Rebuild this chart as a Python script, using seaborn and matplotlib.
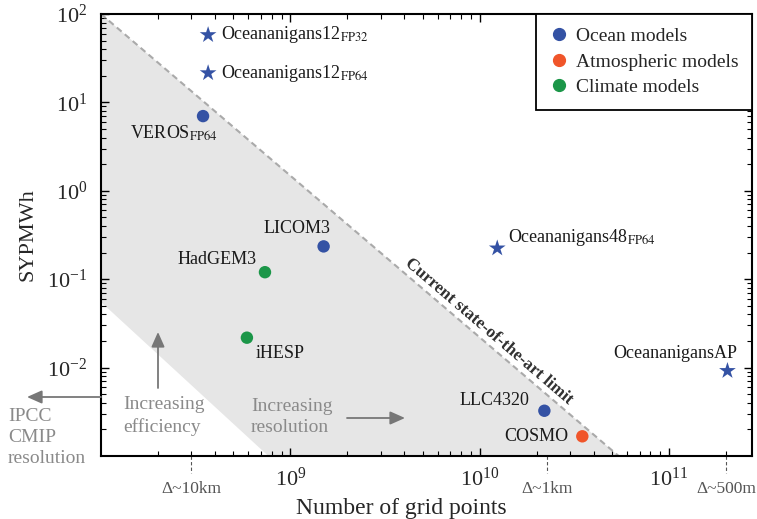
import numpy as np
import pandas as pd
import matplotlib
matplotlib.use("Agg")
import matplotlib.pyplot as plt
import matplotlib.patheffects as pe
from matplotlib.lines import Line2D
from matplotlib.ticker import LogLocator, NullFormatter
import seaborn as sns

# ---------------- data ----------------
model_names = [
    "Oceananigans12$_{\\mathrm{FP32}}$",
    "Oceananigans12$_{\\mathrm{FP64}}$",
    "VEROS$_{\\mathrm{FP64}}$",
    "LICOM3",
    "HadGEM3",
    "iHESP",
    "Oceananigans48$_{\\mathrm{FP64}}$",
    "OceananigansAP",
    "LLC4320",
    "COSMO",
]
grid_points = [3.68e8, 3.68e8, 3.46e8, 1.5e9, 7.35e8, 5.9e8, 1.24e10, 2.04e11, 2.2e10, 3.49e10]
sypmwh = [58.0, 21.5, 7.0, 0.235, 0.12, 0.0218, 0.224, 0.0092, 0.00325, 0.00167]
model_kind = ["Ocean models", "Ocean models", "Ocean models", "Ocean models",
              "Climate models", "Climate models", "Ocean models", "Ocean models",
              "Ocean models", "Atmospheric models"]
model_marker = ["*", "*", "o", "o", "o", "o", "*", "*", "o", "o"]
# label offsets (pixels) and alignment
label_dx = [13, 13, 15, -27, -8, 9, 11, 10, -15, -14]
label_dy = [0, 0, -8, 18, 13, -16, 11, 17, 10, 0]
label_ha = ["left", "left", "right", "center", "right", "left", "left", "right", "right", "right"]
label_va = ["center", "center", "top", "center", "center", "center", "center", "center", "center", "center"]

kind_order = ["Ocean models", "Atmospheric models", "Climate models"]
kind_colors = ["#3452a4", "#f0552a", "#1b9648"]

# shaded "state-of-the-art" band (polygon vertices) and limit line
band_x = [1e8, 5.43e10, 7.66e8, 1e8]
band_y = [1e2, 1e-3, 1e-3, 0.0552]
limit_x = [1e8, 5.43e10]
limit_y = [1e2, 1e-3]

res_ticks = [3.0e8, 2.27e10, 2.0e11]
res_labels = ["Δ~10km", "Δ~1km", "Δ~500m"]

x_major = [1e9, 1e10, 1e11]
y_major = [1e-2, 1e-1, 1e0, 1e1, 1e2]

df = pd.DataFrame({"name": model_names, "x": grid_points, "y": sypmwh,
                   "kind": model_kind, "marker": model_marker})

# ---------------- style ----------------
sns.set_style("ticks")
plt.rcParams["font.family"] = ["Liberation Serif", "DejaVu Serif"]
plt.rcParams["mathtext.fontset"] = "stix"

fig = plt.figure(figsize=(7.57, 5.19), dpi=100)
L, R, T, B = 101, 752, 14, 456
ax = fig.add_axes([L / 757, (519 - B) / 519, (R - L) / 757, (B - T) / 519])


def px(x, y):
    return ((x - L) / (R - L), (B - y) / (B - T))


ax.set_xscale("log")
ax.set_yscale("log")
ax.set_xlim(1e8, 2.75e11)
ax.set_ylim(1e-3, 1e2)

ax.fill(band_x, band_y, color="#e6e6e6", lw=0, zorder=0)
ax.plot(limit_x, limit_y, ls=(0, (3, 2)), color="#aaaaaa", lw=1.5, zorder=1)

pal = dict(zip(kind_order, kind_colors))
circ = df[df["marker"] == "o"]
star = df[df["marker"] == "*"]
sns.scatterplot(data=circ, x="x", y="y", hue="kind", palette=pal, hue_order=kind_order,
                marker="o", s=80, edgecolor="none", legend=False, ax=ax, zorder=3)
sns.scatterplot(data=star, x="x", y="y", hue="kind", palette=pal, hue_order=kind_order,
                marker="*", s=160, edgecolor="none", legend=False, ax=ax, zorder=3)

for i, row in df.iterrows():
    ax.annotate(row["name"], (row["x"], row["y"]), xytext=(label_dx[i], label_dy[i]),
                textcoords="offset pixels", ha=label_ha[i], va=label_va[i],
                fontsize=13, color="#1a1a1a", zorder=4)

ax.text(1.13e10, 0.0253, "Current state-of-the-art limit", rotation=-40.6,
        rotation_mode="anchor", ha="center", va="center", fontsize=12.5,
        fontweight="bold", color="#333333", zorder=2,
        path_effects=[pe.withStroke(linewidth=3, foreground="white")])

# arrows and grey annotations
arrow_kw = dict(arrowstyle="-|>,head_length=0.9,head_width=0.4", color="#777777",
                lw=1.3, shrinkA=0, shrinkB=0)
ax.annotate("", xy=px(27, 397), xytext=px(101, 397), xycoords="axes fraction",
            arrowprops=arrow_kw, annotation_clip=False)
ax.annotate("", xy=px(158, 332), xytext=px(158, 388), xycoords="axes fraction",
            arrowprops=arrow_kw, annotation_clip=False)
ax.annotate("", xy=px(405, 418), xytext=px(347, 418), xycoords="axes fraction",
            arrowprops=arrow_kw, annotation_clip=False)
grey = "#8a8a8a"
ax.text(*px(8, 408), "IPCC\nCMIP\nresolution", transform=ax.transAxes, ha="left",
        va="top", fontsize=14, color=grey, linespacing=1.3, clip_on=False)
ax.text(*px(123, 416), "Increasing\nefficiency", transform=ax.transAxes, ha="left",
        va="center", fontsize=14, color=grey, linespacing=1.3)
ax.text(*px(251, 417), "Increasing\nresolution", transform=ax.transAxes, ha="left",
        va="center", fontsize=14, color=grey, linespacing=1.3)

# resolution markers under the x axis
trans = ax.get_xaxis_transform()
for xv, lab in zip(res_ticks, res_labels):
    ax.plot([xv, xv], [0, -17 / (B - T)], transform=trans, clip_on=False,
            color="#555555", lw=0.8, ls=(0, (3, 2)))
    ax.text(xv, -33 / (B - T), lab, transform=trans, ha="center", va="center",
            fontsize=12.5, color="#555555")

# axes, ticks
ax.set_xticks(x_major)
ax.set_yticks(y_major)
ax.xaxis.set_minor_locator(LogLocator(base=10, subs=np.arange(2, 10), numticks=20))
ax.yaxis.set_minor_locator(LogLocator(base=10, subs=np.arange(2, 10), numticks=20))
ax.xaxis.set_minor_formatter(NullFormatter())
ax.yaxis.set_minor_formatter(NullFormatter())
ax.tick_params(which="both", direction="in", top=True, right=True, color="black")
ax.tick_params(which="major", length=6, width=1.0, labelsize=16)
ax.tick_params(which="minor", length=3.5, width=0.8)
ax.tick_params(axis="y", which="major", pad=10)
ax.tick_params(axis="x", which="major", pad=8)
for sp in ax.spines.values():
    sp.set_linewidth(1.5)
    sp.set_color("black")

ax.set_xlabel("Number of grid points", fontsize=17)
ax.set_ylabel("SYPMWh", fontsize=16)
ax.xaxis.set_label_coords((401 - L) / (R - L), (B - 498) / (B - T))
ax.yaxis.set_label_coords((38 - L) / (R - L), 0.5)

handles = [Line2D([], [], marker="o", ls="none", color=c, markersize=8.5, label=k)
           for k, c in zip(kind_order, kind_colors)]
leg = ax.legend(handles=handles, loc="upper right", bbox_to_anchor=(1, 1),
                borderaxespad=0, fontsize=14, frameon=True, fancybox=False,
                framealpha=1, edgecolor="black", borderpad=0.7, handlelength=1.0,
                handletextpad=0.35, labelspacing=0.4)
leg.get_frame().set_linewidth(1.3)
leg.set_zorder(5)

fig.savefig("out.png", dpi=100)
